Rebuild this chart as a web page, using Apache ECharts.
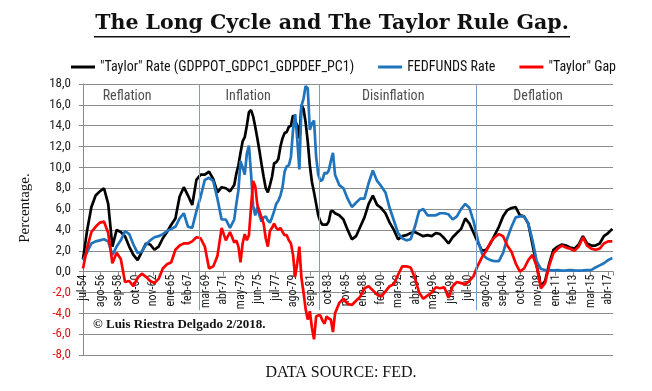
<!DOCTYPE html>
<html><head><meta charset="utf-8">
<script src="https://cdn.jsdelivr.net/npm/echarts@6/dist/echarts.min.js"></script>
<style>html,body{margin:0;padding:0;background:#fff}#c{width:652px;height:391px}</style>
</head><body><div id="c"></div>
<script>
// ---- Data ----
// x position = months since jul-54 (each tick label is 25 steps apart)
const tickLabels = ['jul-54','ago-56','sep-58','oct-60','nov-62','ene-65','feb-67','mar-69','abr-71','may-73','jun-75','jul-77','ago-79','sep-81','oct-83','nov-85','ene-88','feb-90','mar-92','abr-94','may-96','jun-98','jul-00','ago-02','sep-04','oct-06','nov-08','ene-11','feb-13','mar-15','abr-17'];
const tickStep = 25;

const months = [0,6,12,18,24,30,36,42,48,54,60,66,72,78,84,90,96,102,108,114,120,126,132,138,144,150,156,162,168,174,180,186,192,198,204,210,216,
219,222,225,228,231,234,237,240,243,246,249,252,255,258,261,264,267,270,273,276,279,282,285,288,291,294,297,300,303,306,309,312,315,318,321,324,327,330,333,336,339,342,345,348,351,354,357,360,
366,372,378,384,390,396,402,408,414,420,426,432,438,444,450,456,462,468,474,480,486,492,498,504,510,516,522,528,534,540,546,552,558,564,570,576,582,588,594,600,606,612,618,624,630,636,642,648,654,660,666,672,678,684,690,696,702,708,714,720,726,732,738,744,750,756];

const taylorRate = [1.2,4.0,6.2,7.3,7.7,8.0,6.5,2.4,4.0,3.8,3.4,2.4,1.6,1.1,1.9,2.7,2.6,2.1,2.4,3.2,3.8,4.5,5.1,7.2,8.1,7.3,6.4,8.8,9.3,9.3,9.6,8.9,7.6,8.1,8.0,7.7,8.3,
9.4,10.2,11.4,12.5,12.9,14.0,15.3,15.5,14.9,13.9,12.8,11.6,10.3,9.1,8.0,7.6,8.3,9.1,10.4,10.5,10.8,12.0,12.8,13.3,13.4,13.9,14.0,15.0,14.5,14.0,12.8,16.0,15.6,14.3,12.5,10.2,8.6,7.6,6.5,5.4,4.8,4.5,4.5,4.5,4.8,5.8,5.8,5.6,
5.4,5.0,4.0,3.1,3.4,4.3,5.2,6.5,7.3,6.4,6.1,5.6,4.7,4.0,3.1,3.4,3.5,3.7,3.8,3.6,3.4,3.5,3.4,3.7,3.6,3.2,2.7,3.3,3.7,4.1,5.1,4.6,3.7,2.8,2.0,2.1,2.7,3.5,4.3,5.3,5.9,6.1,6.2,5.4,5.3,4.6,2.6,0.6,-1.4,-0.9,0.8,2.1,2.4,2.6,2.5,2.3,2.2,2.6,3.4,2.7,2.5,2.5,2.7,3.4,3.7,4.1];

const fedFunds = [1.1,1.9,2.7,2.9,3.0,3.1,2.9,1.6,2.4,3.0,3.9,3.6,2.6,1.8,1.9,2.6,3.0,3.3,3.4,3.6,3.9,4.1,4.3,5.1,5.6,4.3,4.2,5.8,7.2,8.8,9.0,8.7,7.0,5.0,5.0,4.2,5.0,
6.5,7.8,10.6,10.0,9.3,11.3,12.1,9.4,6.3,5.4,6.2,5.4,4.8,5.2,5.3,4.9,4.7,5.2,5.8,6.5,6.8,7.3,8.1,9.6,10.1,10.2,11.0,13.6,15.1,12.7,9.8,15.9,16.6,17.8,17.6,13.6,14.2,14.5,11.0,9.3,8.7,8.8,9.5,9.4,9.7,10.6,11.4,9.3,
8.3,8.0,7.0,6.2,6.6,7.0,7.0,8.5,9.7,8.7,8.2,7.6,6.1,4.9,3.7,3.2,3.0,3.1,4.3,5.8,6.0,5.4,5.4,5.4,5.6,5.6,5.5,5.0,5.3,6.0,6.5,6.1,4.8,3.0,1.7,1.3,1.1,1.0,1.0,1.8,3.2,4.3,5.2,5.3,5.3,4.6,3.0,1.0,0.25,0.15,0.15,0.12,0.15,0.1,0.12,0.15,0.12,0.1,0.12,0.15,0.15,0.4,0.6,0.8,1.1,1.3];

const taylorGap = [0.3,2.3,3.8,4.3,4.7,4.8,3.7,0.8,1.8,1.2,-1.0,-0.9,-1.4,-0.6,-0.2,-0.5,-0.9,-1.1,-0.7,0.3,0.7,0.9,2.1,2.5,2.7,2.7,2.9,3.3,3.2,2.4,0.3,0.5,1.5,4.2,3.0,3.8,2.8,
3.0,2.4,0.9,2.7,3.6,3.0,3.5,6.2,8.7,8.2,6.4,5.8,5.2,4.6,3.2,2.4,3.9,4.2,4.6,4.2,4.0,4.2,3.8,3.5,3.5,3.0,2.7,1.6,-0.5,0.8,2.4,-0.6,-2.0,-3.6,-4.6,-3.8,-5.4,-6.5,-4.3,-4.2,-4.2,-4.7,-5.0,-4.3,-4.5,-4.6,-5.8,-4.0,
-3.0,-2.6,-3.1,-3.2,-2.8,-2.4,-1.6,-1.4,-1.8,-2.2,-2.4,-1.9,-1.4,-1.2,-0.3,0.5,0.5,0.4,-0.6,-2.0,-2.6,-2.3,-2.0,-1.5,-1.6,-1.5,-2.5,-1.4,-1.0,-1.1,-1.2,-0.9,-0.4,0.6,1.4,2.0,2.8,3.3,3.6,3.4,2.5,1.9,0.8,0.0,0.3,1.1,1.6,0.5,-1.6,-1.1,0.6,1.8,2.2,2.5,2.3,2.2,2.0,2.4,3.3,2.5,2.2,2.1,2.2,2.7,2.9,2.9];

const seriesNames = ['"Taylor" Rate (GDPPOT_GDPC1_GDPDEF_PC1)', 'FEDFUNDS Rate', '"Taylor" Gap'];
const phaseNames = ['Reflation', 'Inflation', 'Disinflation', 'Deflation'];
const phaseLabelMonths = [63, 236, 443, 650];
const phaseBreaks = [166, 338, 562];

// ---- Chart ----
const NARROW = '"Liberation Sans Narrow", "Arial Narrow", "Roboto Condensed", Lato, sans-serif';
const SERIF = '"Liberation Serif", "DejaVu Serif", serif';
const pairs = arr => months.map((m, i) => [m, arr[i]]);
const chart = echarts.init(document.getElementById('c'), null, {renderer: 'canvas'});

const GRID_TOP = 84, GRID_BOTTOM = 36, H = 391;
const Y_MIN = -8, Y_MAX = 18;
// distance (px) from grid bottom up to the zero line, so the x axis sits on y = 0
const zeroOffset = (0 - Y_MIN) / (Y_MAX - Y_MIN) * (H - GRID_TOP - GRID_BOTTOM);

const lineSeries = (name, arr, color, extra) => Object.assign({
  name, type: 'line', data: pairs(arr), showSymbol: false, symbol: 'none',
  lineStyle: {color, width: 2.7}, itemStyle: {color}, animation: false, silent: true
}, extra || {});

chart.setOption({
  animation: false,
  backgroundColor: '#fff',
  grid: {left: 83, right: 39, top: GRID_TOP, bottom: GRID_BOTTOM},
  legend: {
    data: seriesNames, left: 66, top: 55, icon: 'rect', itemWidth: 24, itemHeight: 3,
    itemGap: 24, textStyle: {fontFamily: NARROW, fontSize: 14, color: '#111'}
  },
  xAxis: {
    type: 'value', min: 0, max: 757, interval: tickStep,
    offset: -zeroOffset,
    axisLine: {onZero: false, lineStyle: {color: '#8a8a8a', width: 1}},
    axisTick: {show: true, length: 4, lineStyle: {color: '#8a8a8a'}},
    splitLine: {show: false},
    axisLabel: {
      rotate: 90, margin: 3, fontSize: 12, fontFamily: NARROW, color: '#222',
      formatter: v => (v % tickStep === 0 && tickLabels[v / tickStep]) ? tickLabels[v / tickStep] : ''
    }
  },
  yAxis: {
    type: 'value', min: Y_MIN, max: Y_MAX, interval: 2,
    axisLine: {show: true, onZero: false, lineStyle: {color: '#8a8a8a', width: 1}},
    axisTick: {show: true, length: 4, lineStyle: {color: '#8a8a8a'}},
    splitLine: {show: true, lineStyle: {color: '#8c8c8c', width: 1}},
    axisLabel: {
      margin: 12, fontSize: 13, fontFamily: NARROW,
      formatter: v => v.toFixed(1).replace('.', ','),
      color: v => (Number(v) < 0 ? '#e01010' : '#222')
    }
  },
  series: [
    lineSeries(seriesNames[0], taylorRate, '#000000', {
      markLine: {
        silent: true, symbol: 'none', animation: false,
        label: {show: false},
        lineStyle: {color: '#7b9dc9', width: 1, type: 'solid'},
        data: phaseBreaks.map(b => [{coord: [b, 18]}, {coord: [b, -3.7]}])
      }
    }),
    lineSeries(seriesNames[1], fedFunds, '#1f74bd'),
    lineSeries(seriesNames[2], taylorGap, '#ff0000'),
    {
      type: 'scatter', silent: true, symbolSize: 0.01, animation: false,
      data: phaseNames.map((n, i) => ({name: n, value: [phaseLabelMonths[i], 16.8]})),
      label: {show: true, position: 'inside', formatter: p => p.name,
        fontFamily: NARROW, fontSize: 14, color: '#222'}
    }
  ],
  graphic: [
    {type: 'text', x: 332, y: 24, style: {
      text: 'The Long Cycle and The Taylor Rule Gap.', font: 'bold 20.5px "DejaVu Serif"', fill: '#111',
      align: 'center', verticalAlign: 'middle'}},
    {type: 'rect', shape: {x: 94, y: 36, width: 476, height: 1.6}, style: {fill: '#111'}},
    {type: 'text', x: 25, y: 208, rotation: Math.PI / 2, style: {
      text: 'Percentage.', font: '15px ' + SERIF, fill: '#111', align: 'center', verticalAlign: 'middle'}},
    {type: 'text', x: 93, y: 325, style: {
      text: '\u00A9 Luis Riestra Delgado 2/2018.', font: 'bold 13px ' + SERIF, fill: '#111', verticalAlign: 'middle'}},
    {type: 'text', x: 341, y: 373, style: {
      text: 'DATA SOURCE: FED.', font: '16px ' + SERIF, fill: '#111', align: 'center', verticalAlign: 'middle'}}
  ]
});
</script></body></html>
